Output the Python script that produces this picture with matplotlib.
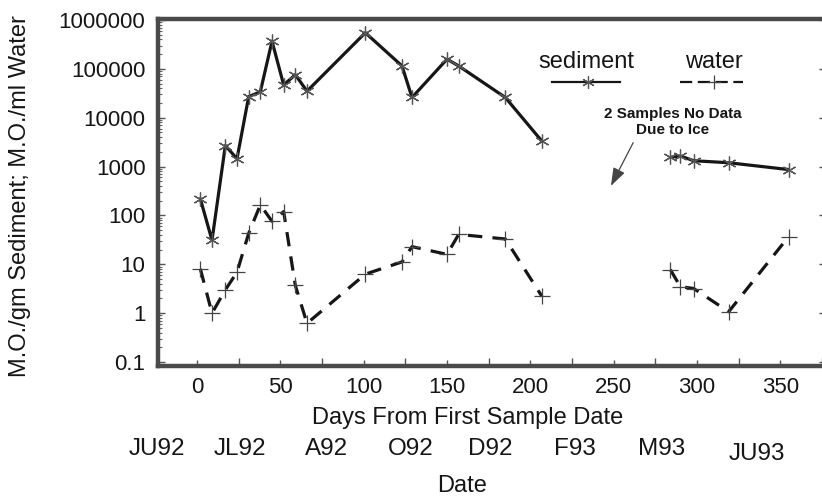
import numpy as np
import matplotlib
matplotlib.use("Agg")
import matplotlib.pyplot as plt
from matplotlib.ticker import FixedLocator, LogLocator, NullFormatter, MultipleLocator

plt.rcParams["font.family"] = ["Liberation Sans", "DejaVu Sans"]

# 采样日（距首次采样天数），两段之间为冰封无数据
days = [2, 9, 17, 24, 31, 38, 45, 52, 59, 66, 101, 123, 129, 150, 157, 185, 207,
        284, 290, 298, 319, 355]
sediment = [220, 31, 2700, 1450, 27000, 34000, 370000, 47000, 76000, 35000,
            550000, 115000, 26000, 158000, 115000, 26000, 3300,
            1550, 1650, 1320, 1200, 870]
water = [8.1, 1.0, 3.0, 6.9, 43, 165, 76, 120, 3.7, 0.62,
         6.3, 11.2, 23, 16, 41, 33, 2.2,
         7.8, 3.5, 3.2, 1.07, 37]
split = 17  # 第一段点数

xtick_vals = [0, 50, 100, 150, 200, 250, 300, 350]
ytick_vals = [0.1, 1, 10, 100, 1000, 10000, 100000, 1000000]
ytick_labels = ["0.1", "1", "10", "100", "1000", "10000", "100000", "1000000"]
date_labels = ["JU92", "JL92", "A92", "O92", "D92", "F93", "M93", "JU93"]
date_pos = [-24, 26, 78, 128, 176, 227, 279, 336]

ink = "#161616"
fs_tick = 16
fs_title = 17
fs_date = 17.5

fig = plt.figure(figsize=(8.22, 4.97), dpi=100)
ax = fig.add_axes([158 / 822, 131 / 497, 668 / 822, 347 / 497])

d = np.array(days, dtype=float)
s = np.array(sediment, dtype=float)
w = np.array(water, dtype=float)

for seg in (slice(0, split), slice(split, None)):
    ax.plot(d[seg], s[seg], color=ink, lw=2.3, solid_capstyle="round",
            marker=(6, 2, 0), ms=10, mec="#555555", mew=0.9)
    ax.plot(d[seg], w[seg], color=ink, lw=2.3, dashes=(4.5, 3.2),
            marker="+", ms=11, mec="#444444", mew=0.9)

ax.set_yscale("log")
ax.set_xlim(-23.4, 377.4)
ax.set_ylim(0.083, 1.05e6)

ax.yaxis.set_major_locator(FixedLocator(ytick_vals))
ax.set_yticklabels(ytick_labels)
ax.yaxis.set_minor_locator(LogLocator(base=10, subs=np.arange(2, 10), numticks=20))
ax.yaxis.set_minor_formatter(NullFormatter())
ax.xaxis.set_major_locator(FixedLocator(xtick_vals))
ax.xaxis.set_minor_locator(MultipleLocator(25))

ax.tick_params(axis="both", which="major", direction="in", labelsize=fs_tick,
               colors="#555555", labelcolor=ink, width=1)
ax.tick_params(axis="y", which="major", length=5, pad=9, right=True)
ax.tick_params(axis="y", which="minor", direction="in", length=3, width=0.8,
               colors="#666666")
ax.tick_params(axis="x", which="major", length=4, pad=8)
ax.tick_params(axis="x", which="minor", direction="in", length=6, width=1,
               colors="#555555")

for sp in ax.spines.values():
    sp.set_linewidth(3.2)
    sp.set_color("#4a4a4a")

# 坐标轴标题
ax.text(0.464, -0.150, "Days From First Sample Date", transform=ax.transAxes,
        ha="center", va="center", fontsize=fs_title, color=ink)
for lab, xp in zip(date_labels, date_pos):
    yoff = -0.254 if lab == "JU93" else -0.239
    ax.text(xp, yoff, lab, transform=ax.get_xaxis_transform(), ha="center",
            va="center", fontsize=fs_date, color=ink, clip_on=False)
ax.text(0.455, -0.345, "Date", transform=ax.transAxes, ha="center",
        va="center", fontsize=fs_title, color=ink)
fig.text(20 / 822, 1 - 196 / 497, "M.O./gm Sediment; M.O./ml Water",
         rotation=90, ha="center", va="center", fontsize=fs_title, color=ink)

# 图例（手工）
ax.text(0.642, 0.876, "sediment", transform=ax.transAxes, ha="center",
        va="center", fontsize=fs_title, color=ink)
ax.text(0.832, 0.876, "water", transform=ax.transAxes, ha="center",
        va="center", fontsize=fs_title, color=ink)
ax.plot([0.590, 0.692], [0.818, 0.818], transform=ax.transAxes, color=ink,
        lw=1.6)
ax.plot([0.644], [0.818], transform=ax.transAxes, marker=(6, 2, 0), ms=9,
        mec="#555555", mew=0.9, ls="none")
ax.plot([0.781, 0.876], [0.818, 0.818], transform=ax.transAxes, color=ink,
        lw=1.6, dashes=(5.5, 2.5))
ax.plot([0.832], [0.818], transform=ax.transAxes, marker="+", ms=10,
        mec="#444444", mew=0.9, ls="none")

# 冰封注释
ax.annotate("2 Samples No Data\nDue to Ice", xy=(0.678, 0.519),
            xycoords="axes fraction", xytext=(0.771, 0.703),
            textcoords="axes fraction", ha="center", va="center",
            fontsize=11, fontweight="bold", color=ink, linespacing=1.25,
            arrowprops=dict(arrowstyle="-|>,head_length=1.0,head_width=0.35",
                            color="#444444", lw=0.9, relpos=(0.23, 0.0),
                            shrinkA=2, shrinkB=0))

fig.savefig("out.png", dpi=100)
